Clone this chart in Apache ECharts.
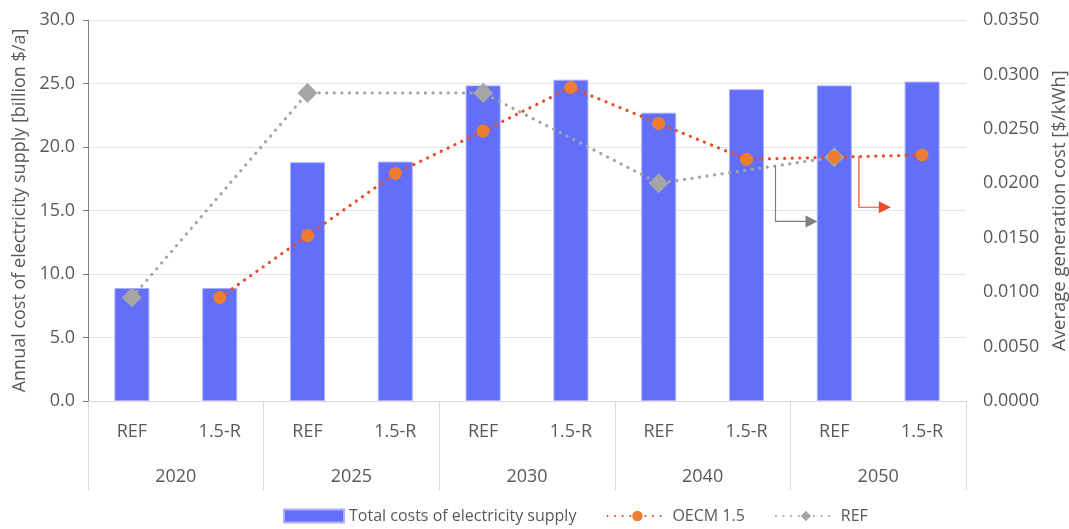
<!DOCTYPE html>
<html><head><meta charset="utf-8">
<script src="https://cdn.jsdelivr.net/npm/echarts@6/dist/echarts.min.js"></script>
<style>html,body{margin:0;padding:0;background:#fff}#c{width:1069px;height:529px}</style>
</head><body><div id="c"></div>
<script>
const years = ['2020','2025','2030','2040','2050'];
const scenarios = ['REF','1.5-R'];
const categories = ['2020|REF','2020|1.5-R','2025|REF','2025|1.5-R','2030|REF','2030|1.5-R','2040|REF','2040|1.5-R','2050|REF','2050|1.5-R'];
const totalCosts = [8.9, 8.9, 18.8, 18.85, 24.85, 25.3, 22.7, 24.55, 24.85, 25.15];
const oecmCost = [null, 0.0095, 0.0152, 0.0209, 0.0248, 0.0288, 0.0255, 0.0222, 0.0224, 0.0226];
const refCost = [0.0095, null, 0.0283, null, 0.0283, null, 0.0200, null, 0.0224, null];
const leftTicks = {min:0, max:30, interval:5};
const rightTicks = {min:0, max:0.035, interval:0.005};

const txt = '#595959';
const font = 'Open Sans';
const chart = echarts.init(document.getElementById('c'), null, {renderer:'canvas'});
const option = {
  animation:false,
  textStyle:{fontFamily:font},
  grid:{left:88, right:103, top:20, bottom:128, containLabel:false, outerBoundsMode:'none'},
  legend:{
    bottom:0, left:278, itemGap:30, itemWidth:60, itemHeight:13,
    textStyle:{color:txt, fontSize:16, fontFamily:font},
    data:[
      {name:'Total costs of electricity supply', icon:'rect'},
      {name:'OECM 1.5'},
      {name:'REF'}
    ]
  },
  xAxis:[
    {type:'category', data:categories, position:'bottom',
     axisLine:{show:true, lineStyle:{color:'#d9d9d9', width:1}},
     axisTick:{show:false},
     axisLabel:{color:txt, fontSize:18, margin:22, formatter:v=>v.split('|')[1]}},
    {type:'category', data:years, position:'bottom', gridIndex:0,
     axisLine:{show:false},
     axisTick:{show:true, length:89, lineStyle:{color:'#d9d9d9', width:1}},
     axisLabel:{color:txt, fontSize:18, margin:67}}
  ],
  yAxis:[
    {type:'value', min:leftTicks.min, max:leftTicks.max, interval:leftTicks.interval,
     name:'Annual cost of electricity supply [billion $/a]', nameLocation:'middle', nameGap:58, nameRotate:90,
     nameTextStyle:{color:txt, fontSize:18},
     axisLine:{show:true, lineStyle:{color:'#7f7f7f'}},
     axisTick:{show:true, length:5, lineStyle:{color:'#7f7f7f'}},
     axisLabel:{color:txt, fontSize:18, margin:13, formatter:v=>v.toFixed(1)},
     splitLine:{lineStyle:{color:'#e3e3e3', width:1}}},
    {type:'value', min:rightTicks.min, max:rightTicks.max, interval:rightTicks.interval, position:'right',
     name:'Average generation cost [$/kWh]', nameLocation:'middle', nameGap:82, nameRotate:90,
     nameTextStyle:{color:txt, fontSize:18.5},
     axisLine:{show:false}, axisTick:{show:false},
     axisLabel:{color:txt, fontSize:18, margin:17, formatter:v=>v.toFixed(4)},
     splitLine:{show:false}}
  ],
  series:[
    {name:'Total costs of electricity supply', type:'bar', data:totalCosts, xAxisIndex:0, yAxisIndex:0,
     barWidth:35, itemStyle:{color:'#636ff9', borderColor:'#aab0ff', borderWidth:1}},
    {name:'OECM 1.5', type:'line', data:oecmCost, xAxisIndex:0, yAxisIndex:1, connectNulls:true,
     symbol:'circle', symbolSize:13, itemStyle:{color:'#ed7d31'},
     lineStyle:{color:'#ee4b2b', width:3.2, type:[0.1,7.5], cap:'round'}, z:4},
    {name:'REF', type:'line', data:refCost, xAxisIndex:0, yAxisIndex:1, connectNulls:true,
     symbol:'diamond', symbolSize:[20,20], itemStyle:{color:'#a5a5a5'},
     lineStyle:{color:'#a5a5a5', width:3.2, type:[0.1,7.5], cap:'round'}, z:3}
  ]
};
chart.setOption(option);

// annotation arrows (explanatory callouts)
function arrow(x0, y0, y1, x1, color){
  return [
    {type:'polyline', shape:{points:[[x0,y0],[x0,y1],[x1-10,y1]]}, style:{stroke:color, lineWidth:1.2, fill:null}, z:10},
    {type:'polygon', shape:{points:[[x1-12,y1-6],[x1,y1],[x1-12,y1+6]]}, style:{fill:color}, z:10}
  ];
}
const yv = v => chart.convertToPixel({yAxisIndex:1}, v);
const xc = i => chart.convertToPixel({xAxisIndex:0}, categories[i]);
const g1x = xc(7) + (xc(8)-xc(7))*0.33;
const g2x = xc(8) + (xc(9)-xc(8))*0.28;
chart.setOption({graphic:[
  ...arrow(g1x, yv(0.0216), yv(0.0165), g1x+42, '#7f7f7f'),
  ...arrow(g2x, yv(0.0225), yv(0.0178), g2x+32, '#ee4b2b')
]});
</script></body></html>
